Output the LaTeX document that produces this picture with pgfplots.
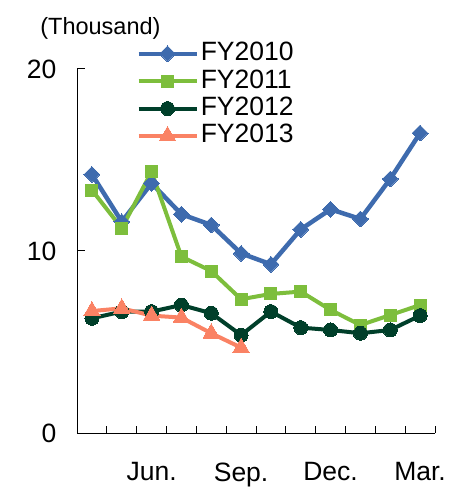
\documentclass[border=0pt]{standalone}
\usepackage{pgfplots}
\pgfplotsset{compat=1.18}
\usepackage{fontspec}
\setmainfont{Liberation Sans}
\definecolor{cA}{HTML}{3E6BAE}
\definecolor{cB}{HTML}{7DBE3C}
\definecolor{cC}{HTML}{003F2A}
\definecolor{cD}{HTML}{FA8264}
\begin{document}
\begin{tikzpicture}
\begin{axis}[
  at={(0,0)}, anchor=south west,
  scale only axis, width=358pt, height=364pt,
  xmin=-0.5, xmax=11.5, ymin=0, ymax=20,
  axis x line=bottom, axis y line=left,
  axis line style={-, line width=1pt, black},
  tick align=inside,
  ytick={0,10,20},
  xtick={2,5,8,11},
  xticklabels={Jun.,Sep.,Dec.,Mar.},
  major x tick style={draw=none},
  minor xtick={-0.5,0.5,...,11.5},
  minor tick length=7pt,
  major tick length=8pt,
  tick style={black, line width=1pt},
  ticklabel style={font=\fontsize{26.5}{30}\selectfont},
  /pgf/number format/assume math mode=true,
  yticklabel style={xshift=-17pt},
  xticklabel style={yshift=-26pt},
  clip=false,
  legend style={draw=none, fill=none, at={(0.165,1.08)}, anchor=north west,
    font=\fontsize{26.5}{30}\selectfont, inner sep=0pt, row sep=0pt,
    nodes={inner xsep=2pt, inner ysep=1.7pt, text height=19pt, text depth=5pt}},
  legend cell align=left,
  legend image code/.code={
    \draw[#1, mark repeat=2, mark phase=2] plot coordinates {(0pt,0pt) (29pt,0pt) (58pt,0pt)};
  },
]
\addplot[color=cA, line width=4.5pt, mark=square*, mark size=5.6pt, mark options={rotate=45, line width=0pt}] coordinates {
(0,14.21) (1,11.61) (2,13.72) (3,12.02) (4,11.43) (5,9.87) (6,9.27) (7,11.19) (8,12.29) (9,11.76) (10,13.96) (11,16.48)};
\addlegendentry{FY2010}
\addplot[color=cB, line width=4pt, mark=square*, mark size=6pt, mark options={line width=0pt}] coordinates {
(0,13.35) (1,11.25) (2,14.36) (3,9.69) (4,8.90) (5,7.35) (6,7.64) (7,7.77) (8,6.76) (9,5.93) (10,6.48) (11,7.03)};
\addlegendentry{FY2011}
\addplot[color=cC, line width=4pt, mark=*, mark size=7pt, mark options={line width=0pt}] coordinates {
(0,6.30) (1,6.67) (2,6.67) (3,7.03) (4,6.58) (5,5.38) (6,6.67) (7,5.79) (8,5.66) (9,5.48) (10,5.66) (11,6.45)};
\addlegendentry{FY2012}
\addplot[color=cD, line width=4pt, mark=triangle*, mark size=9.5pt, mark options={line width=0pt}] coordinates {
(0,6.70) (1,6.85) (2,6.45) (3,6.34) (4,5.48) (5,4.69)};
\addlegendentry{FY2013}
\node[anchor=base west, font=\fontsize{23.5}{27}\selectfont, inner sep=0pt] at (rel axis cs:-0.103,1.096) {(Thousand)};
\end{axis}
\pgfresetboundingbox
\path (-77pt,-56pt) rectangle (374pt,433pt);
\end{tikzpicture}
\end{document}
